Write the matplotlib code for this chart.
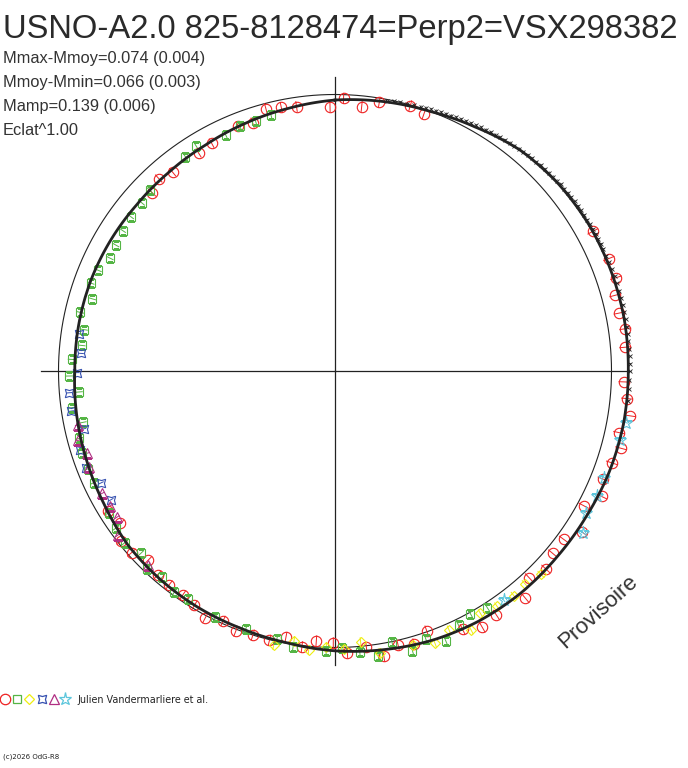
import numpy as np
import matplotlib
matplotlib.use("Agg")
import matplotlib.pyplot as plt
from matplotlib.lines import Line2D

TITLE = "USNO-A2.0 825-8128474=Perp2=VSX298382"
STATS = ["Mmax-Mmoy=0.074 (0.004)", "Mmoy-Mmin=0.066 (0.003)",
         "Mamp=0.139 (0.006)", "Eclat^1.00"]
OBSERVER = "Julien Vandermarliere et al."
COPYRIGHT = "(c)2026 OdG-R8"
STAMP = "Provisoire"

# phase (0..1) and magnitude relative to mean
fit_phase = [0.000, 0.028, 0.056, 0.083, 0.111, 0.139, 0.167, 0.194, 0.222, 0.250,
             0.278, 0.306, 0.333, 0.361, 0.389, 0.417, 0.444, 0.472, 0.500, 0.528,
             0.556, 0.583, 0.611, 0.639, 0.667, 0.694, 0.722, 0.750, 0.778, 0.806,
             0.833, 0.861, 0.889, 0.917, 0.944, 0.972, 1.000]
fit_mag = [0.022, 0.011, 0.000, -0.019, -0.045, -0.057, -0.063, -0.065, -0.066, -0.064,
           -0.064, -0.060, -0.053, -0.050, -0.050, -0.046, -0.038, -0.025, -0.013, 0.002,
           0.010, 0.013, 0.018, 0.024, 0.040, 0.050, 0.058, 0.066, 0.065, 0.065,
           0.068, 0.072, 0.071, 0.065, 0.053, 0.039, 0.022]

red_phase = [0.959, 0.968, 0.977, 0.997, 0.005, 0.016, 0.026, 0.044, 0.053, 0.171,
             0.188, 0.921, 0.911, 0.891, 0.882, 0.873, 0.940, 0.949, 0.199, 0.208,
             0.218, 0.227, 0.237, 0.256, 0.265, 0.274, 0.284, 0.292, 0.301, 0.311,
             0.320, 0.329, 0.342, 0.351, 0.361, 0.370, 0.380, 0.389, 0.407, 0.417,
             0.427, 0.446, 0.455, 0.464, 0.473, 0.482, 0.493, 0.501, 0.511, 0.519,
             0.529, 0.538, 0.548, 0.558, 0.567, 0.577, 0.586, 0.595, 0.605, 0.614,
             0.624, 0.634, 0.643, 0.652, 0.662]
red_mag = [0.020, 0.030, 0.037, 0.049, 0.015, 0.043, 0.017, 0.003, 0.019, -0.063,
           -0.074, 0.071, 0.079, 0.081, 0.063, 0.087, 0.053, 0.060, -0.074, -0.052,
           -0.053, -0.064, -0.056, -0.050, -0.064, -0.082, -0.054, -0.075, -0.057, -0.048,
           -0.069, -0.024, -0.070, -0.029, -0.029, -0.048, -0.027, -0.075, -0.060, -0.072,
           -0.045, 0.004, -0.030, -0.018, -0.049, -0.004, -0.021, 0.019, 0.024, -0.005,
           0.023, -0.002, 0.000, -0.008, 0.011, -0.010, 0.013, 0.022, 0.023, 0.025,
           0.043, 0.015, 0.013, 0.052, 0.039]

green_phase = [0.961, 0.951, 0.941, 0.931, 0.912, 0.903, 0.873, 0.864, 0.853, 0.843,
               0.833, 0.824, 0.814, 0.805, 0.796, 0.786, 0.776, 0.766, 0.757, 0.747,
               0.737, 0.728, 0.718, 0.709, 0.700, 0.690, 0.681, 0.661, 0.651, 0.641,
               0.630, 0.621, 0.611, 0.600, 0.591, 0.572, 0.553, 0.534, 0.524, 0.505,
               0.496, 0.486, 0.476, 0.467, 0.457, 0.448, 0.438, 0.428, 0.419, 0.409]
green_mag = [0.051, 0.059, 0.056, 0.066, 0.051, 0.061, 0.072, 0.084, 0.084, 0.090,
             0.098, 0.103, 0.078, 0.069, 0.096, 0.061, 0.091, 0.090, 0.052, 0.042,
             0.080, 0.045, 0.078, 0.049, 0.043, 0.043, 0.043, 0.039, 0.029, 0.019,
             0.042, 0.014, 0.029, 0.013, 0.021, 0.010, 0.013, 0.008, -0.010, -0.013,
             -0.002, -0.021, -0.046, -0.001, -0.053, -0.027, -0.058, -0.025, -0.005, -0.020]

yellow_phase = [0.535, 0.524, 0.515, 0.505, 0.495, 0.485, 0.475, 0.456, 0.444, 0.434,
                0.423, 0.414, 0.404, 0.393, 0.384, 0.374]
yellow_mag = [-0.017, 0.015, -0.014, 0.002, -0.007, 0.018, -0.034, -0.032, -0.052, -0.025,
              -0.061, -0.024, -0.036, -0.041, -0.034, -0.050]

blue_phase = [0.773, 0.761, 0.749, 0.737, 0.726, 0.714, 0.702, 0.691, 0.679, 0.667]
blue_mag = [0.073, 0.090, 0.074, 0.040, 0.038, 0.075, 0.038, 0.039, 0.070, 0.074]

magenta_phase = [0.717, 0.708, 0.699, 0.691, 0.673, 0.664, 0.656, 0.647, 0.622]
magenta_mag = [0.055, 0.043, 0.061, 0.051, 0.053, 0.059, 0.057, 0.019, 0.029]

cyan_phase = [0.278, 0.288, 0.310, 0.321, 0.332, 0.342, 0.399]
cyan_mag = [-0.071, -0.064, -0.050, -0.055, -0.045, -0.073, -0.031]

black_phase = [0.030, 0.034, 0.038, 0.042, 0.046, 0.050, 0.053, 0.056, 0.059, 0.062,
               0.065, 0.068, 0.071, 0.074, 0.077, 0.080, 0.083, 0.086, 0.089, 0.092,
               0.095, 0.098, 0.101, 0.104, 0.107, 0.110, 0.113, 0.116, 0.119, 0.122,
               0.125, 0.128, 0.131, 0.134, 0.137, 0.140, 0.143, 0.146, 0.149, 0.152,
               0.155, 0.158, 0.161, 0.164, 0.167, 0.170, 0.173, 0.176, 0.179, 0.182,
               0.186, 0.190, 0.194, 0.198, 0.202, 0.206, 0.210, 0.214, 0.218, 0.222,
               0.226, 0.230, 0.234, 0.238, 0.242, 0.246, 0.250, 0.255, 0.260, 0.266]
black_mag = [0.005, 0.002, 0.000, -0.002, -0.004, -0.005, -0.007, -0.009, -0.010, -0.012,
             -0.014, -0.016, -0.018, -0.020, -0.022, -0.024, -0.026, -0.029, -0.031, -0.033,
             -0.035, -0.038, -0.039, -0.042, -0.044, -0.046, -0.048, -0.050, -0.052, -0.053,
             -0.055, -0.056, -0.058, -0.059, -0.060, -0.062, -0.062, -0.063, -0.064, -0.065,
             -0.065, -0.066, -0.067, -0.067, -0.068, -0.068, -0.069, -0.069, -0.070, -0.070,
             -0.070, -0.071, -0.070, -0.071, -0.071, -0.070, -0.071, -0.071, -0.070, -0.071,
             -0.070, -0.070, -0.070, -0.069, -0.070, -0.069, -0.069, -0.068, -0.068, -0.068]

# typical error of each series (mag)
errors = {"red": 0.022, "green": 0.016, "yellow": 0.018, "blue": 0.012,
          "magenta": 0.012, "cyan": 0.010, "black": 0.005}

W, H = 688, 768
CX, CY, R0 = 335, 371, 276.5   # pixel centre and mean radius
RMAX = 1.2


def radius(mag):
    # Eclat^1.00 : radius proportional to flux
    return 10 ** (-0.4 * np.asarray(mag))


def fx(px):
    return px / W


def fy(py):
    return 1 - py / H


fig = plt.figure(figsize=(W / 100, H / 100), dpi=100)
half = RMAX * R0
ax = fig.add_axes([fx(CX - half), fy(CY + half), 2 * half / W, 2 * half / H],
                  projection="polar")
ax.set_theta_zero_location("N")
ax.set_theta_direction(-1)
ax.set_ylim(0, RMAX)
ax.axis("off")

ink = "#222222"
rmax = radius(min(fit_mag))
ring = np.linspace(0, 2 * np.pi, 721)
ax.plot(ring, np.ones_like(ring), color=ink, lw=0.8, zorder=1)
for a in (0, np.pi / 2, np.pi, 3 * np.pi / 2):
    ax.plot([a, a], [0, rmax], color=ink, lw=0.9, zorder=1)

styles = {
    "red": dict(marker="o", color="#ee2222", ms=7.5),
    "green": dict(marker="s", color="#55b545", ms=6.0),
    "yellow": dict(marker="D", color="#eeee11", ms=5.6),
    "blue": dict(marker=(4, 1, 45), color="#3550b0", ms=8.5),
    "magenta": dict(marker="^", color="#b02e82", ms=7.5),
    "cyan": dict(marker="*", color="#5cc6dc", ms=9.5),
}
series = [
    ("red", red_phase, red_mag),
    ("green", green_phase, green_mag),
    ("yellow", yellow_phase, yellow_mag),
    ("blue", blue_phase, blue_mag),
    ("magenta", magenta_phase, magenta_mag),
    ("cyan", cyan_phase, cyan_mag),
]

for name, ph, mg in series:
    st = styles[name]
    th = 2 * np.pi * np.asarray(ph)
    mg = np.asarray(mg)
    e = errors[name]
    ax.vlines(th, radius(mg + e), radius(mg - e), colors=st["color"], lw=0.7, zorder=2)
    ax.plot(th, radius(mg), ls="none", marker=st["marker"], ms=st["ms"],
            mfc="none", mec=st["color"], mew=0.8, zorder=3)

th = 2 * np.pi * np.asarray(black_phase)
bm = np.asarray(black_mag)
ax.vlines(th, radius(bm + errors["black"]), radius(bm - errors["black"]),
          colors=ink, lw=0.6, zorder=4)
ax.plot(th, radius(bm), ls="none", marker="x", ms=2.6, mec=ink, mew=0.6, zorder=4)

# fit curve: let the polar transform bend each segment
fit_line, = ax.plot(2 * np.pi * np.asarray(fit_phase), radius(fit_mag), color=ink,
                    lw=2.0, zorder=5, solid_joinstyle="round")
fit_line.get_path()._interpolation_steps = 40

# texts
fig.text(fx(3), fy(38), TITLE, fontsize=23.6, family="Liberation Sans",
         color="#2a2a2a", va="baseline", ha="left")
for i, s in enumerate(STATS):
    fig.text(fx(3), fy(63 + 24 * i), s, fontsize=11.8, family="Liberation Sans",
             color="#333333", va="baseline", ha="left")

fig.text(fx(598), fy(612), STAMP, fontsize=16, family="Liberation Sans",
         color="#333333", rotation=42, ha="center", va="center")

# legend row
leg_x = [5, 17, 29.3, 41.7, 54, 65.3]
for (name, _, _), x in zip(series, leg_x):
    st = styles[name]
    fig.add_artist(Line2D([fx(x)], [fy(699)], transform=fig.transFigure, ls="none",
                          marker=st["marker"], ms=st["ms"] * 1.0, mfc="none",
                          mec=st["color"], mew=0.9))
fig.text(fx(77), fy(700), OBSERVER, fontsize=6.9, family="DejaVu Sans",
         color="#222222", va="center", ha="left")
fig.text(fx(3), fy(757), COPYRIGHT, fontsize=5, family="DejaVu Sans",
         color="#222222", va="center", ha="left")

fig.savefig("out.png", dpi=100)
